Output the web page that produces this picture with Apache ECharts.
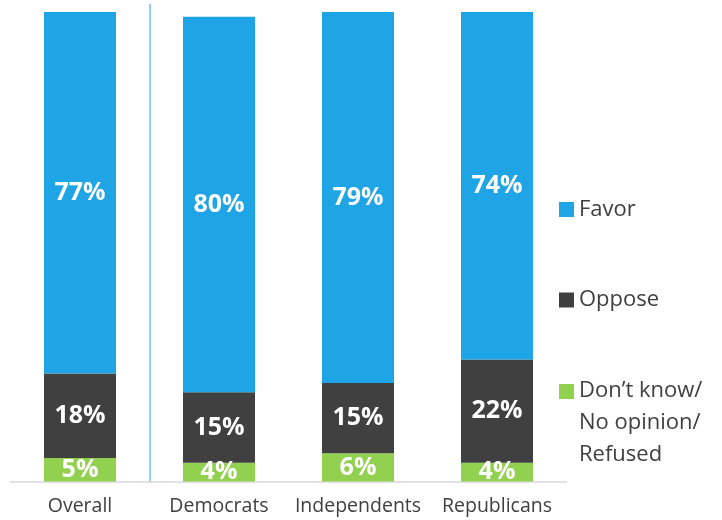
<!DOCTYPE html>
<html><head><meta charset="utf-8">
<script src="https://cdn.jsdelivr.net/npm/echarts@6/dist/echarts.min.js"></script>
<style>html,body{margin:0;padding:0;background:#fff}#c{width:722px;height:520px}</style>
</head><body><div id="c"></div>
<script>
var categories = ['Overall', 'Democrats', 'Independents', 'Republicans'];
var dontKnow = [5, 4, 6, 4];
var oppose = [18, 15, 15, 22];
var favor = [77, 80, 79, 74];
var seriesNames = ['Don’t know/\nNo opinion/\nRefused', 'Oppose', 'Favor'];
var colors = ['#92D050', '#404040', '#1FA5E6'];
var separatorAt = 0.5; // between Overall and Democrats (category index units)

var chart = echarts.init(document.getElementById('c'));
var font = '"Open Sans", "Noto Sans", sans-serif';
function mk(name, data, color) {
  return {
    name: name, type: 'bar', stack: 'all', data: data, barWidth: 72,
    itemStyle: { color: color },
    label: { show: true, position: 'inside', formatter: '{c}%', color: '#fff',
      fontSize: 25, fontWeight: 'bold', fontFamily: font }
  };
}
var legendText = { color: '#404040', fontSize: 22, fontFamily: font, lineHeight: 32 };
chart.setOption({
  animation: false,
  grid: { left: 10.5, right: 155.5, top: 4, bottom: 38.5, containLabel: false },
  legend: [
    { data: [seriesNames[2]], left: 554, top: 188.5, itemWidth: 15, itemHeight: 15, icon: 'rect', textStyle: legendText, itemGap: 0 },
    { data: [seriesNames[1]], left: 554, top: 279, itemWidth: 15, itemHeight: 15, icon: 'rect', textStyle: legendText, itemGap: 0 },
    { data: [seriesNames[0]], left: 554, top: 370, itemWidth: 15, itemHeight: 78,
      icon: 'path://M0,0L15,0L15,15L0,15Z M0,78L0.01,78L0,78Z', textStyle: legendText, itemGap: 0 }
  ],
  xAxis: [{
    type: 'category', data: categories,
    axisLine: { show: true, lineStyle: { color: '#D9D9D9', width: 1.5 } },
    axisTick: { show: false },
    axisLabel: { color: '#404040', fontSize: 19.5, fontFamily: font, margin: 15, interval: 0 },
    splitLine: { show: false }
  }, {
    type: 'value', min: -0.5, max: categories.length - 0.5, show: false, splitLine: { show: false }
  }],
  yAxis: { type: 'value', min: 0, max: 101.7, show: false, splitLine: { show: false } },
  series: [
    mk(seriesNames[0], dontKnow, colors[0]),
    mk(seriesNames[1], oppose, colors[1]),
    mk(seriesNames[2], favor, colors[2]),
    { type: 'line', xAxisIndex: 1, data: [], silent: true,
      markLine: { silent: true, symbol: 'none', label: { show: false },
        lineStyle: { color: '#6EC3EE', width: 1.5, type: 'solid' },
        data: [{ xAxis: separatorAt }] } }
  ]
});
</script></body></html>
